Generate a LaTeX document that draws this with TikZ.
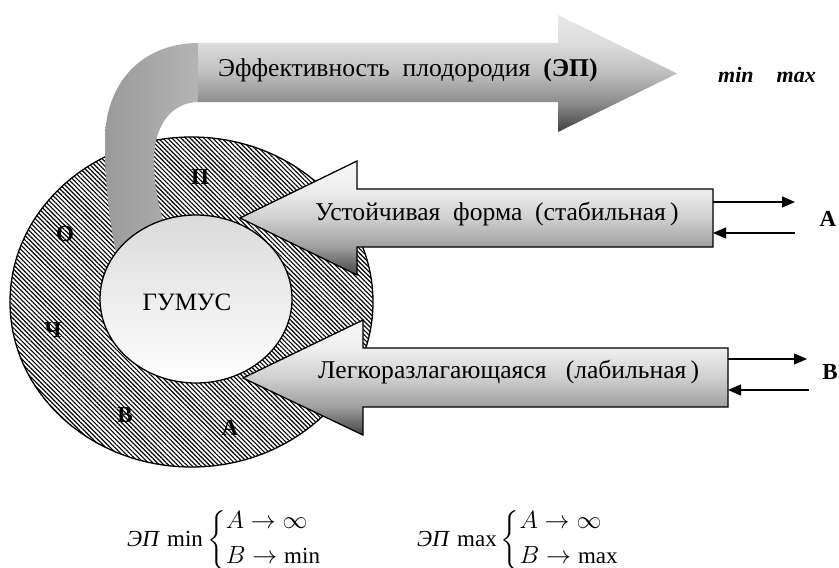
\documentclass[tikz,border=0pt]{standalone}
\usepackage{fontspec}
\setmainfont{Liberation Serif}
\usepackage{amsmath}
\usetikzlibrary{arrows.meta,patterns.meta}
\definecolor{hA0}{HTML}{404040}
\definecolor{sA0}{HTML}{8C8C8C}
\definecolor{sAm}{HTML}{BDBDBD}
\definecolor{sA1}{HTML}{DCDCDC}
\definecolor{hA1}{HTML}{E8E8E8}
\definecolor{hB0}{HTML}{454545}
\definecolor{sB0}{HTML}{A0A0A0}
\definecolor{sBm}{HTML}{CFCFCF}
\definecolor{sB1}{HTML}{EEEEEE}
\definecolor{hB1}{HTML}{F8F8F8}
\definecolor{band1}{HTML}{9A9A9A}
\definecolor{band2}{HTML}{B4B4B4}
\definecolor{gum}{HTML}{DADADA}
\pgfdeclareverticalshading{topshade}{100bp}{color(0bp)=(hA0); color(25bp)=(hA0); color(37.5bp)=(sA0); color(50bp)=(sAm); color(62.5bp)=(sA1); color(75bp)=(hA1); color(100bp)=(hA1)}
\pgfdeclareverticalshading{sideshade}{100bp}{color(0bp)=(hB0); color(25bp)=(hB0); color(37.5bp)=(sB0); color(50bp)=(sBm); color(62.5bp)=(sB1); color(75bp)=(hB1); color(100bp)=(hB1)}
\begin{document}
\begin{tikzpicture}[x=1pt,y=-1pt,
  every node/.style={inner sep=0pt},
  lbl/.style={font=\fontsize{25.6}{30}\selectfont},
  ringlbl/.style={font=\bfseries\fontsize{23}{27}\selectfont},
  outline/.style={line width=1.3pt},
  formula/.style={anchor=west, font=\fontsize{23}{28}\selectfont},
  smallarrow/.style={-{Triangle[length=13pt,width=11pt]}, line width=1.2pt}]
\useasboundingbox (0,0) rectangle (839,568);
% hatched ring
\draw[outline, pattern={Lines[angle=-45,distance=3.2pt,line width=1.15pt]}]
  (191.5,302) ellipse [x radius=181.5, y radius=165];
% curved band
\shade[left color=band1, right color=band2]
  (199,43) .. controls (140,43) and (105,85) .. (105,140)
  .. controls (105,190) and (110,225) .. (118,262) -- (172,245)
  .. controls (160,215) and (154,190) .. (154,160)
  .. controls (154,125) and (172,102) .. (199,102) -- cycle;
% top arrow
\shade[shading=topshade]
  (198,43) -- (558,43) -- (558,15) -- (677,73.5) -- (558,132) -- (558,102) -- (198,102) -- cycle;
% inner ellipse
\draw[outline, top color=gum, bottom color=white]
  (196,299) ellipse [x radius=96, y radius=84];
% left arrows
\shadedraw[outline, shading=sideshade]
  (713,189) -- (357,189) -- (357,161) -- (240,218) -- (357,275) -- (357,247) -- (713,247) -- cycle;
\shadedraw[outline, shading=sideshade]
  (728,348) -- (363,348) -- (363,320) -- (243,378) -- (363,435) -- (363,407) -- (728,407) -- cycle;
% texts
\node[lbl, anchor=west] (ep) at (218,70) {Эффективность\ \ плодородия\ \ \textbf{(ЭП)}};
\node[lbl, anchor=west] (st) at (315,214) {Устойчивая\ \ форма\ \ (стабильная\,)};
\node[lbl, anchor=west] (lb) at (318,372) {Легкоразлагающаяся\ \ \ (лабильная\,)};
\node[font=\fontsize{25}{30}\selectfont] (gumus) at (187,302) {ГУМУС};
\node[ringlbl] (lP) at (200,177) {П};
\node[ringlbl] (lO) at (65,234) {О};
\node[ringlbl] (lCh) at (53,330) {Ч};
\node[ringlbl] (lV) at (125,415) {В};
\node[ringlbl] (lA) at (230,428) {А};
\node[font=\bfseries\itshape\fontsize{22}{26}\selectfont] (mm) at (767,75) {min\hspace{23pt}max};
% right side arrows
\coordinate (u1) at (713,202); \coordinate (u2) at (795,202);
\coordinate (u3) at (795,233); \coordinate (u4) at (713,233);
\coordinate (d1) at (728,359); \coordinate (d2) at (807,359);
\coordinate (d3) at (809,390); \coordinate (d4) at (728,390);
\draw[smallarrow] (u1) -- (u2);
\draw[smallarrow] (u3) -- (u4);
\draw[smallarrow] (d1) -- (d2);
\draw[smallarrow] (d3) -- (d4);
\node[font=\bfseries\fontsize{23}{27}\selectfont] (labA) at (828,219) {A};
\node[font=\bfseries\fontsize{23}{27}\selectfont] (labB) at (830,372) {B};
% formulas
\node[formula] (f1) at (127,540)
  {$\mbox{\itshape ЭП}\,\min\left\{\begin{array}{@{}l@{}} A\to\infty\\[7pt] B\to\min\end{array}\right.$};
\node[formula] (f2) at (417,540)
  {$\mbox{\itshape ЭП}\,\max\left\{\begin{array}{@{}l@{}} A\to\infty\\[7pt] B\to\max\end{array}\right.$};
\end{tikzpicture}
\end{document}
